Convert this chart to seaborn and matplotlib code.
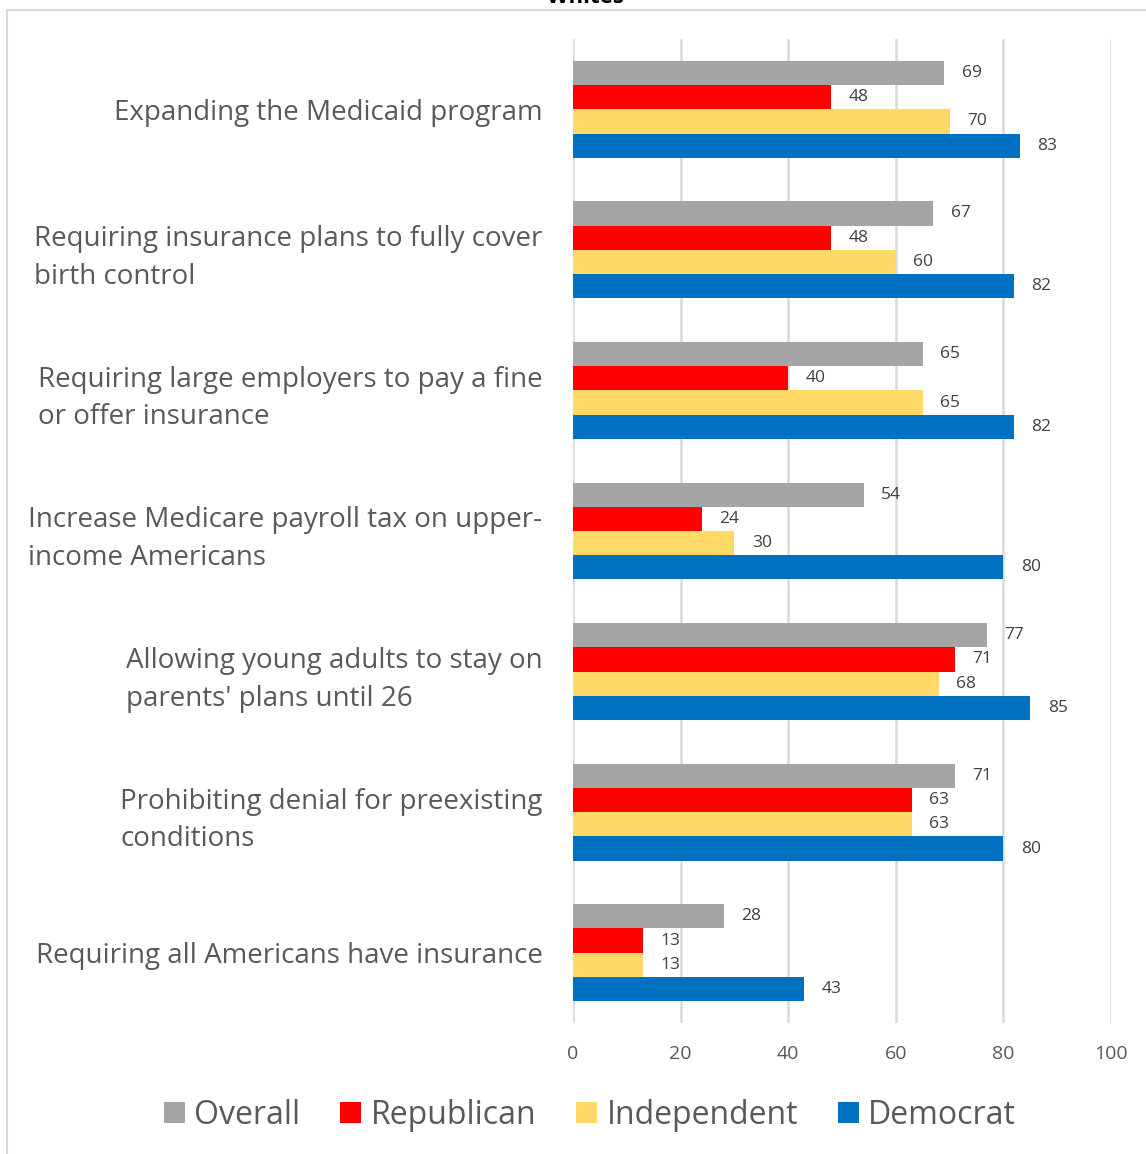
import matplotlib
matplotlib.use("Agg")
import matplotlib.pyplot as plt
from matplotlib.patches import Patch
from matplotlib.lines import Line2D
import seaborn as sns
import pandas as pd

categories = [
    "Expanding the Medicaid program",
    "Requiring insurance plans to fully cover\nbirth control",
    "Requiring large employers to pay a fine\nor offer insurance",
    "Increase Medicare payroll tax on upper-\nincome Americans",
    "Allowing young adults to stay on\nparents' plans until 26",
    "Prohibiting denial for preexisting\nconditions",
    "Requiring all Americans have insurance",
]
groups = ["Overall", "Republican", "Independent", "Democrat"]
overall = [69, 67, 65, 54, 77, 71, 28]
republican = [48, 48, 40, 24, 71, 63, 13]
independent = [70, 60, 65, 30, 68, 63, 13]
democrat = [83, 82, 82, 80, 85, 80, 43]
x_ticks = [0, 20, 40, 60, 80, 100]
title = "Whites"

colors = {"Overall": "#a5a5a5", "Republican": "#ff0000",
          "Independent": "#ffd966", "Democrat": "#0070c0"}
text_color = "#595959"
label_color = "#404040"
grid_color = "#d9d9d9"

rows = []
for g, vals in zip(groups, [overall, republican, independent, democrat]):
    for c, v in zip(categories, vals):
        rows.append({"category": c, "group": g, "value": v})
df = pd.DataFrame(rows)

sns.set_theme(style="white")
plt.rcParams["font.family"] = ["Open Sans", "DejaVu Sans"]

fig = plt.figure(figsize=(11.46, 11.54), dpi=100)
ax = fig.add_axes([573 / 1146, 1 - 1023 / 1154, 538 / 1146, 984 / 1154])

sns.barplot(data=df, y="category", x="value", hue="group", order=categories,
            hue_order=groups, palette=colors, saturation=1, width=0.69,
            orient="h", ax=ax, legend=False, linewidth=0, errorbar=None)

for cont in ax.containers:
    ax.bar_label(cont, padding=12.5, fontsize=12.5, color=label_color)

ax.set_xlim(0, 100)
ax.set_xticks(x_ticks)
ax.set_xlabel("")
ax.set_ylabel("")
ax.grid(axis="x", color=grid_color, linewidth=1.8)
ax.set_axisbelow(True)
for s in ax.spines.values():
    s.set_visible(False)
ax.tick_params(axis="x", length=0, pad=16, labelsize=14, labelcolor=text_color)
ax.tick_params(axis="y", length=0, pad=22, labelsize=20, labelcolor=text_color)
for lab in ax.get_yticklabels():
    lab.set_multialignment("left")
    lab.set_linespacing(1.45)

handles = [Patch(facecolor=colors[g], edgecolor="none", label=g) for g in groups]
fig.legend(handles=handles, loc="center", bbox_to_anchor=(590 / 1146, 1 - 1115 / 1154),
           ncol=4, frameon=False, fontsize=23, labelcolor=text_color,
           handlelength=0.65, handleheight=0.65, handletextpad=0.3, columnspacing=1.25)

# chart frame lines (left and top)
fig.add_artist(Line2D([7 / 1146, 7 / 1146], [0, 1 - 10 / 1154],
                      transform=fig.transFigure, color=grid_color, linewidth=1.5))
fig.add_artist(Line2D([7 / 1146, 1], [1 - 10 / 1154, 1 - 10 / 1154],
                      transform=fig.transFigure, color=grid_color, linewidth=1.5))

fig.text(585 / 1146, 1 - 3 / 1154, title, ha="center", va="baseline",
         fontsize=16, fontweight="bold", color="black")

fig.savefig("out.png", dpi=100)
